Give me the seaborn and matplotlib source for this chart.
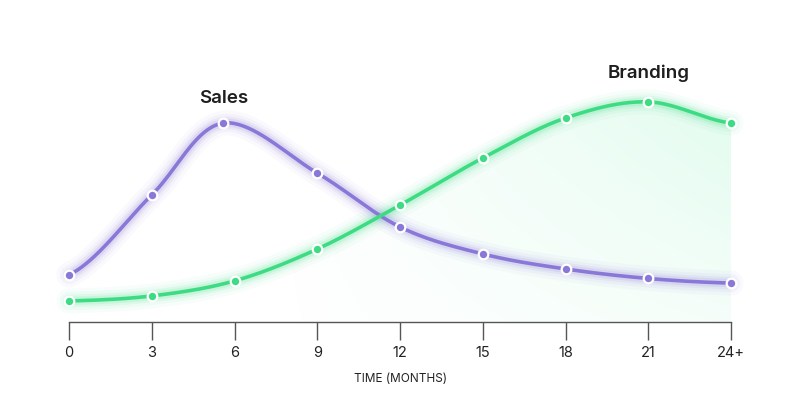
import numpy as np
import pandas as pd
import matplotlib
matplotlib.use("Agg")
import matplotlib.pyplot as plt
import seaborn as sns
from matplotlib.path import Path
from matplotlib.patches import PathPatch

# ---- data ----
sales_months = [0, 3, 5.6, 9, 12, 15, 18, 21, 24]
sales_values = [21.3, 57.5, 90.0, 67.4, 43.0, 30.8, 24.0, 19.7, 17.6]
brand_months = [0, 3, 6, 9, 12, 15, 18, 21, 24]
brand_values = [9.5, 11.8, 18.6, 33.0, 52.9, 74.2, 92.3, 99.6, 90.0]
tick_months = [0, 3, 6, 9, 12, 15, 18, 21, 24]
tick_labels = ["0", "3", "6", "9", "12", "15", "18", "21", "24+"]
series_names = ["Sales", "Branding"]
x_title = "TIME (MONTHS)"

PURPLE = "#8a78d8"
GREEN = "#3ddc84"

sns.set_theme(style="white")
plt.rcParams["font.family"] = ["Inter", "DejaVu Sans"]


def smooth(xs, ys, n=40):
    """Catmull-Rom spline through the given points (rendering only)."""
    xs = np.asarray(xs, float)
    ys = np.asarray(ys, float)
    px = np.concatenate([[xs[0] - (xs[1] - xs[0])], xs, [xs[-1] + (xs[-1] - xs[-2])]])
    py = np.concatenate([[ys[0]], ys, [ys[-1]]])
    ox, oy = [], []
    t = np.linspace(0, 1, n, endpoint=False)
    for i in range(1, len(px) - 2):
        p0x, p1x, p2x, p3x = px[i - 1:i + 3]
        p0y, p1y, p2y, p3y = py[i - 1:i + 3]
        t2, t3 = t * t, t * t * t
        bx = 0.5 * (2 * p1x + (-p0x + p2x) * t + (2 * p0x - 5 * p1x + 4 * p2x - p3x) * t2
                    + (-p0x + 3 * p1x - 3 * p2x + p3x) * t3)
        by = 0.5 * (2 * p1y + (-p0y + p2y) * t + (2 * p0y - 5 * p1y + 4 * p2y - p3y) * t2
                    + (-p0y + 3 * p1y - 3 * p2y + p3y) * t3)
        ox.append(bx)
        oy.append(by)
    ox.append([xs[-1]])
    oy.append([ys[-1]])
    return np.concatenate(ox), np.concatenate(oy)


fig = plt.figure(figsize=(8, 4.2), dpi=100)
ax = fig.add_axes([69 / 800, (420 - 322) / 420, 662 / 800, 282 / 420])
ax.set_xlim(0, 24)
ax.set_ylim(0, 127.6)

sx, sy = smooth(sales_months, sales_values)
bx, by = smooth(brand_months, brand_values)

# gradient fill under branding curve
verts = list(zip(bx, by)) + [(24, 0), (0, 0)]
clip = PathPatch(Path(verts), facecolor="none", edgecolor="none", transform=ax.transData)
ax.add_patch(clip)
gx = np.linspace(0, 1, 300)
gy = np.linspace(0, 1, 200)
GX, GY = np.meshgrid(gx, gy)
alpha = np.clip((GX - 0.3) / 0.7, 0, 1) ** 1.0 * (0.35 + 0.65 * GY) * 0.15
rgba = np.zeros((200, 300, 4))
rgba[..., 0] = 0.24
rgba[..., 1] = 0.92
rgba[..., 2] = 0.58
rgba[..., 3] = alpha
im = ax.imshow(rgba, extent=[0, 24, 0, 100], origin="lower", aspect="auto", zorder=1)
im.set_clip_path(clip)

# glow
for lw, a in [(18, 0.04), (13, 0.06), (9, 0.09), (6, 0.12)]:
    ax.plot(sx, sy, color=PURPLE, lw=lw, alpha=a, solid_capstyle="round", zorder=2, clip_on=False)
    ax.plot(bx, by, color=GREEN, lw=lw, alpha=a, solid_capstyle="round", zorder=2, clip_on=False)

df_s = pd.DataFrame({"x": sx, "y": sy})
df_b = pd.DataFrame({"x": bx, "y": by})
sns.lineplot(data=df_s, x="x", y="y", ax=ax, color=PURPLE, lw=2.6, sort=False, zorder=3)
sns.lineplot(data=df_b, x="x", y="y", ax=ax, color=GREEN, lw=2.6, sort=False, zorder=3)
for l in ax.lines:
    l.set_clip_on(False)

sns.scatterplot(x=sales_months, y=sales_values, ax=ax, color=PURPLE, s=48,
                edgecolor="white", linewidth=1.6, zorder=4, clip_on=False)
sns.scatterplot(x=brand_months, y=brand_values, ax=ax, color=GREEN, s=48,
                edgecolor="white", linewidth=1.6, zorder=4, clip_on=False)

# series labels
ax.text(5.6, 101.3, series_names[0], ha="center", va="center", fontsize=13.5,
        fontweight="semibold", color="#1e1e1e")
ax.text(21, 112.5, series_names[1], ha="center", va="center", fontsize=13.5,
        fontweight="semibold", color="#1e1e1e")

# axes styling
for s in ["top", "right", "left"]:
    ax.spines[s].set_visible(False)
ax.spines["bottom"].set_color("#555555")
ax.spines["bottom"].set_linewidth(1.0)
ax.set_yticks([])
ax.set_xticks(tick_months)
ax.set_xticklabels(tick_labels, fontsize=10.5, color="#222222")
ax.tick_params(axis="x", bottom=True, length=13, width=1.0, color="#555555", pad=4)
ax.set_xlabel(x_title, fontsize=8.5, color="#222222", labelpad=10)
ax.set_ylabel("")
ax.grid(False)

fig.savefig("out.png", dpi=100, facecolor="white")
